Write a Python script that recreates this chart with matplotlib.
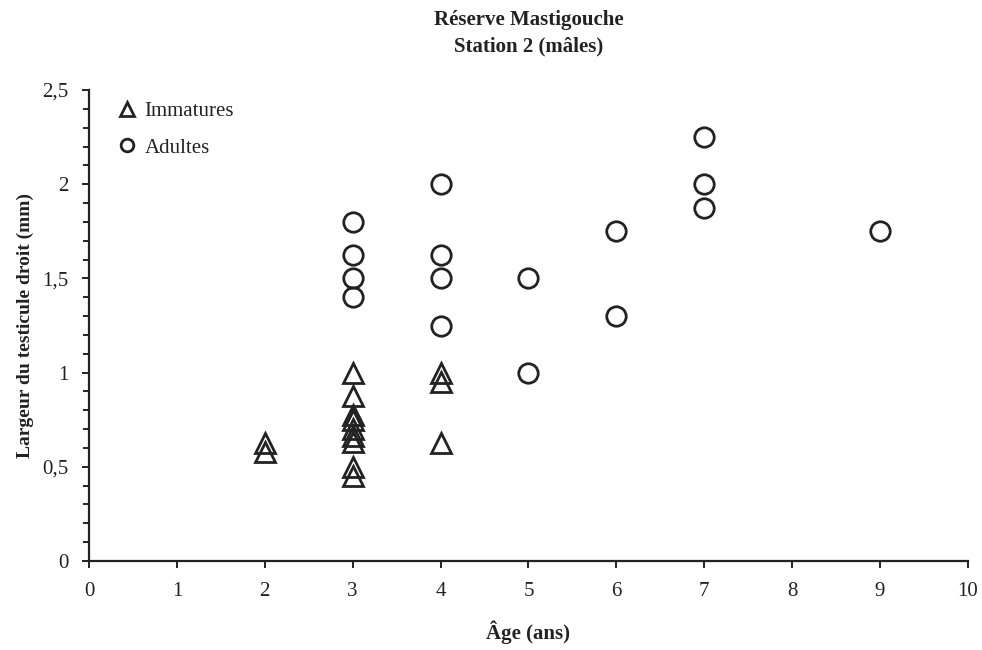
import matplotlib
matplotlib.use("Agg")
import matplotlib.pyplot as plt
from matplotlib.ticker import MultipleLocator, FuncFormatter

# Âge (ans) et largeur du testicule droit (mm)
immatures_age = [2, 2, 3, 3, 3, 3, 3, 3, 3, 3, 3, 4, 4, 4]
immatures_largeur = [0.625, 0.58, 1.0, 0.875, 0.775, 0.75, 0.7, 0.665, 0.63, 0.5, 0.45, 1.0, 0.95, 0.625]

adultes_age = [3, 3, 3, 3, 4, 4, 4, 4, 5, 5, 6, 6, 7, 7, 7, 9]
adultes_largeur = [1.8, 1.625, 1.5, 1.4, 2.0, 1.625, 1.5, 1.25, 1.5, 1.0, 1.75, 1.3, 2.25, 2.0, 1.875, 1.75]

titre = "Réserve Mastigouche\nStation 2 (mâles)"
x_label = "Âge (ans)"
y_label = "Largeur du testicule droit (mm)"

plt.rcParams["font.family"] = ["Liberation Serif", "DejaVu Serif"]
ink = "#222222"
fs = 15

fig = plt.figure(figsize=(9.82, 6.50), dpi=100)
ax = fig.add_axes([0.0906, 0.1369, 0.8951, 0.7246])

ax.plot(immatures_age, immatures_largeur, linestyle="none", marker="^", ms=15,
        mfc="none", mec=ink, mew=2.0, label="Immatures", clip_on=False)
ax.plot(adultes_age, adultes_largeur, linestyle="none", marker="o", ms=14,
        mfc="none", mec=ink, mew=2.0, label="Adultes", clip_on=False)

ax.set_xlim(0, 10)
ax.set_ylim(0, 2.5)
ax.xaxis.set_major_locator(MultipleLocator(1))
ax.yaxis.set_major_locator(MultipleLocator(0.5))
ax.yaxis.set_minor_locator(MultipleLocator(0.1))

fmt = FuncFormatter(lambda v, p: ("%g" % v).replace(".", ","))
ax.yaxis.set_major_formatter(fmt)

for side in ("top", "right"):
    ax.spines[side].set_visible(False)
for side in ("left", "bottom"):
    ax.spines[side].set_linewidth(1.6)
    ax.spines[side].set_color(ink)

ax.tick_params(axis="both", which="major", direction="out", length=5, width=1.4,
               colors=ink, labelsize=fs)
ax.tick_params(axis="y", which="minor", direction="out", length=4, width=1.4, colors=ink)
ax.tick_params(axis="x", pad=10)
ax.tick_params(axis="y", pad=10)

ax.set_xlabel(x_label, fontsize=fs, fontweight="bold", labelpad=14, color=ink)
ax.set_ylabel(y_label, fontsize=14, fontweight="bold", labelpad=6, color=ink)
ax.set_title(titre, fontsize=fs, fontweight="bold", pad=28, color=ink, linespacing=1.4)

leg = ax.legend(loc="upper left", bbox_to_anchor=(0.01, 1.015), frameon=False,
                fontsize=fs, markerscale=0.65, handlelength=1.0, handletextpad=0.35,
                labelspacing=0.8)
for t in leg.get_texts():
    t.set_color(ink)

fig.savefig("out.png", dpi=100, facecolor="white")
